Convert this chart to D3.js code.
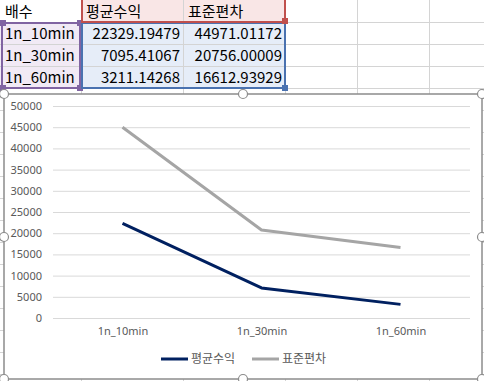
<!DOCTYPE html>
<html>
<head>
<meta charset="UTF-8">
<title>배수별 평균수익 / 표준편차</title>
<script src="https://d3js.org/d3.v7.min.js"></script>
<style>
  body { margin: 0; background: #fff; }
  svg text { font-family: "Noto Sans CJK KR", "Noto Sans", sans-serif; }
</style>
</head>
<body>
<div id="sheet"></div>
<script>
// sheet data
var categories = ["1n_10min", "1n_30min", "1n_60min"];
var seriesNames = ["평균수익", "표준편차"];
var avgReturn = [22329.19479, 7095.41067, 3211.14268];
var stdDev = [44971.01172, 20756.00009, 16612.93929];
var yTicks = [0, 5000, 10000, 15000, 20000, 25000, 30000, 35000, 40000, 45000, 50000];
var headerLabel = "배수";
var seriesColors = ["#002060", "#a5a5a5"];

var W = 484, H = 381;
var svg = d3.select("#sheet").append("svg").attr("width", W).attr("height", H);

/* ---------- spreadsheet grid ---------- */
var colEdges = [0, 81, 183, 285, 357, 429, 484];
var rowH = 22;

// range highlight fills
svg.append("rect").attr("x", 81).attr("y", 0).attr("width", 204).attr("height", 22).attr("fill", "#f9e6e6");
svg.append("rect").attr("x", 0).attr("y", 22).attr("width", 81).attr("height", 66).attr("fill", "#f1eaf5");
svg.append("rect").attr("x", 81).attr("y", 22).attr("width", 204).attr("height", 66).attr("fill", "#e6edf8");

var grid = svg.append("g").attr("stroke", "#d4d4d4").attr("stroke-width", 1);
d3.range(1, 18).forEach(function (i) {
  grid.append("line").attr("x1", 0).attr("x2", W).attr("y1", i * rowH + 0.5).attr("y2", i * rowH + 0.5);
});
colEdges.slice(1, -1).forEach(function (x) {
  grid.append("line").attr("x1", x + 0.5).attr("x2", x + 0.5).attr("y1", 0).attr("y2", H);
});

// cells text
var cellFont = 15;
svg.append("text").attr("x", 5).attr("y", 17).attr("font-size", cellFont).attr("fill", "#000").text(headerLabel);
seriesNames.forEach(function (s, j) {
  svg.append("text").attr("x", colEdges[j + 1] + 5).attr("y", 17)
     .attr("font-size", cellFont).attr("fill", "#000").text(s);
});
categories.forEach(function (c, i) {
  var y = (i + 1) * rowH + 17;
  svg.append("text").attr("x", 5).attr("y", y).attr("font-size", cellFont).attr("fill", "#000").text(c);
  [avgReturn, stdDev].forEach(function (arr, j) {
    svg.append("text").attr("x", colEdges[j + 2] - 3).attr("y", y)
       .attr("text-anchor", "end").attr("font-size", cellFont).attr("fill", "#000")
       .text(arr[i].toFixed(5));
  });
});

// range selection borders + handles
function rangeBox(x, y, w, h, col, handles) {
  svg.append("rect").attr("x", x).attr("y", y).attr("width", w).attr("height", h)
     .attr("fill", "none").attr("stroke", col).attr("stroke-width", 2);
  handles.forEach(function (p) {
    svg.append("rect").attr("x", p[0] - 3).attr("y", p[1] - 3).attr("width", 6).attr("height", 6).attr("fill", col);
  });
}
rangeBox(2, 23, 78, 65, "#8064a2", [[3, 23], [80, 23], [3, 88], [80, 88]]);
rangeBox(82, 23, 203, 65, "#4a72b0", [[285, 88]]);
rangeBox(82, -2, 203, 24, "#c0504d", [[285, 21]]);

/* ---------- chart object ---------- */
var cx0 = 4, cy0 = 94, cx1 = 482, cy1 = 379;
svg.append("rect").attr("x", cx0).attr("y", cy0).attr("width", cx1 - cx0).attr("height", cy1 - cy0)
   .attr("fill", "#fff").attr("stroke", "#8c8c8c").attr("stroke-width", 1.5);

var x = d3.scalePoint().domain(categories).range([53, 470]).padding(0.5);
var y = d3.scaleLinear().domain([0, 50000]).range([318, 106]);

// gridlines + y labels
var yAxis = svg.append("g").attr("transform", "translate(53,0)")
  .call(d3.axisLeft(y).tickValues(yTicks).tickFormat(d3.format("d")).tickSize(-417).tickPadding(11));
yAxis.select(".domain").remove();
yAxis.selectAll(".tick line").attr("stroke", "#d9d9d9");
yAxis.selectAll(".tick text").attr("font-size", 11).attr("fill", "#595959")
  .style("font-family", "'Noto Sans', sans-serif");

// x labels
var xAxis = svg.append("g").attr("transform", "translate(0,318)")
  .call(d3.axisBottom(x).tickSize(0).tickPadding(9));
xAxis.select(".domain").remove();
xAxis.selectAll(".tick text").attr("font-size", 11).attr("fill", "#595959")
  .style("font-family", "'Noto Sans', sans-serif");

// lines
var line = d3.line().x(function (d, i) { return x(categories[i]); }).y(function (d) { return y(d); });
[avgReturn, stdDev].forEach(function (arr, j) {
  svg.append("path").datum(arr).attr("d", line).attr("fill", "none")
     .attr("stroke", seriesColors[j]).attr("stroke-width", 3).attr("stroke-linejoin", "round");
});

// legend
var legendPos = [161, 252];
seriesNames.forEach(function (s, j) {
  var lx = legendPos[j];
  svg.append("line").attr("x1", lx).attr("x2", lx + 27).attr("y1", 359).attr("y2", 359)
     .attr("stroke", seriesColors[j]).attr("stroke-width", 3);
  svg.append("text").attr("x", lx + 30).attr("y", 363).attr("font-size", 12).attr("fill", "#595959").text(s);
});

// chart selection handles
var hp = [[cx0, cy0], [243, cy0], [cx1, cy0], [cx0, 237], [cx1, 237], [cx0, cy1], [243, cy1], [cx1, cy1]];
hp.forEach(function (p) {
  svg.append("circle").attr("cx", p[0]).attr("cy", p[1]).attr("r", 4.5)
     .attr("fill", "#fff").attr("stroke", "#8c8c8c").attr("stroke-width", 1.2);
});
</script>
</body>
</html>
